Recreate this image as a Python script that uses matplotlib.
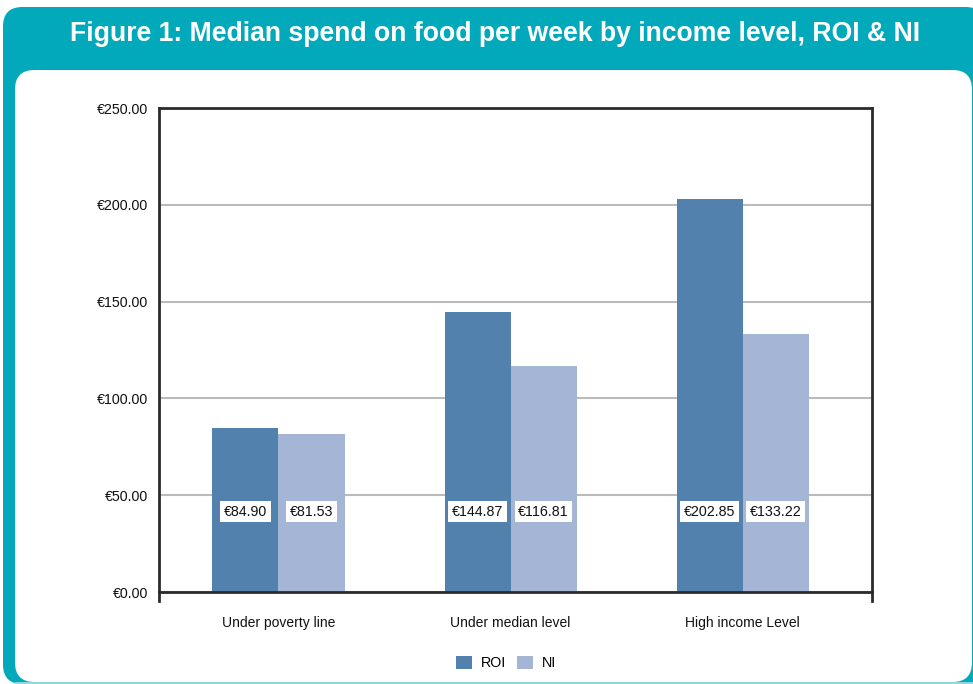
import matplotlib
matplotlib.use("Agg")
import matplotlib.pyplot as plt
from matplotlib.patches import FancyBboxPatch, Rectangle
from matplotlib.lines import Line2D
import numpy as np

plt.rcParams['font.family'] = ['Liberation Sans', 'DejaVu Sans']

categories = ["Under poverty line", "Under median level", "High income Level"]
roi_values = [84.90, 144.87, 202.85]
ni_values = [81.53, 116.81, 133.22]
series_names = ["ROI", "NI"]
yticks = [0, 50, 100, 150, 200, 250]
title = "Figure 1: Median spend on food per week by income level, ROI & NI"

teal = "#02A9BB"
roi_color = "#5381AE"
ni_color = "#A5B5D6"

W, H = 973, 684
fig = plt.figure(figsize=(W / 100, H / 100), dpi=100)
fig.patch.set_facecolor("white")

def fx(px):
    return px / W

def fy(py):
    return 1 - py / H

# teal background
bg = FancyBboxPatch((fx(3), fy(684)), fx(985 - 3), (684 - 7) / H,
                    boxstyle="round,pad=0,rounding_size=0.02",
                    transform=fig.transFigure, facecolor=teal, edgecolor="none",
                    mutation_aspect=W / H, zorder=0)
fig.patches.append(bg)
# light bottom line
fig.patches.append(Rectangle((fx(15), fy(684)), fx(973 - 15), 2 / H,
                             transform=fig.transFigure, facecolor="#8FD6DE",
                             edgecolor="none", zorder=0.5))
# white panel
panel = FancyBboxPatch((fx(15), fy(682)), fx(972 - 15), (682 - 70) / H,
                       boxstyle="round,pad=0,rounding_size=0.02",
                       transform=fig.transFigure, facecolor="white", edgecolor="none",
                       mutation_aspect=W / H, zorder=1)
fig.patches.append(panel)

fig.text(fx(495), fy(34), title, color="white", fontsize=19.2, fontweight="bold",
         ha="center", va="center", zorder=3)

ax = fig.add_axes([fx(159), fy(592), fx(872 - 159), (592 - 108) / H])
ax.set_zorder(2)
ax.set_facecolor("none")

x = np.arange(len(categories))
bw = 0.2845
ax.bar(x - bw / 2, roi_values, bw, color=roi_color, label=series_names[0], zorder=2)
ax.bar(x + bw / 2, ni_values, bw, color=ni_color, label=series_names[1], zorder=2)

label_y = 41.5
for xi, v in zip(x - bw / 2, roi_values):
    ax.text(xi, label_y, f"€{v:.2f}", ha="center", va="center", fontsize=10.3,
            color="#111111", zorder=4,
            bbox=dict(boxstyle="square,pad=0.25", facecolor="white", edgecolor="none"))
for xi, v in zip(x + bw / 2, ni_values):
    ax.text(xi, label_y, f"€{v:.2f}", ha="center", va="center", fontsize=10.3,
            color="#111111", zorder=4,
            bbox=dict(boxstyle="square,pad=0.25", facecolor="white", edgecolor="none"))

xmin, xmax = -0.515, 2.558
ax.set_xlim(xmin, xmax)
ax.set_ylim(0, 250)
ax.set_yticks(yticks)
ax.set_yticklabels([f"€{t:.2f}" for t in yticks], fontsize=10.3, color="#111111")
ax.set_xticks(x)
ax.set_xticklabels(categories, fontsize=10, color="#111111")
ax.tick_params(axis="y", length=0, pad=8)
ax.tick_params(axis="x", length=0, pad=17)
ax.yaxis.grid(True, color="#BBBBBB", linewidth=1.5, zorder=1)
ax.set_axisbelow(True)
for s in ax.spines.values():
    s.set_color("#2B2B2B")
    s.set_linewidth(2)
    s.set_zorder(3)

# end ticks extending below the baseline
for xe in (xmin, xmax):
    ax.add_line(Line2D([xe, xe], [0, -4.5], color="#2B2B2B", linewidth=2,
                       clip_on=False, zorder=3))

leg = fig.legend(loc="center", bbox_to_anchor=(fx(506), fy(663)), ncol=2, frameon=False,
                 fontsize=10.3, handlelength=1.1, handleheight=1.1, handletextpad=0.6,
                 columnspacing=0.8)

fig.savefig("out.png", dpi=100, facecolor="white")
